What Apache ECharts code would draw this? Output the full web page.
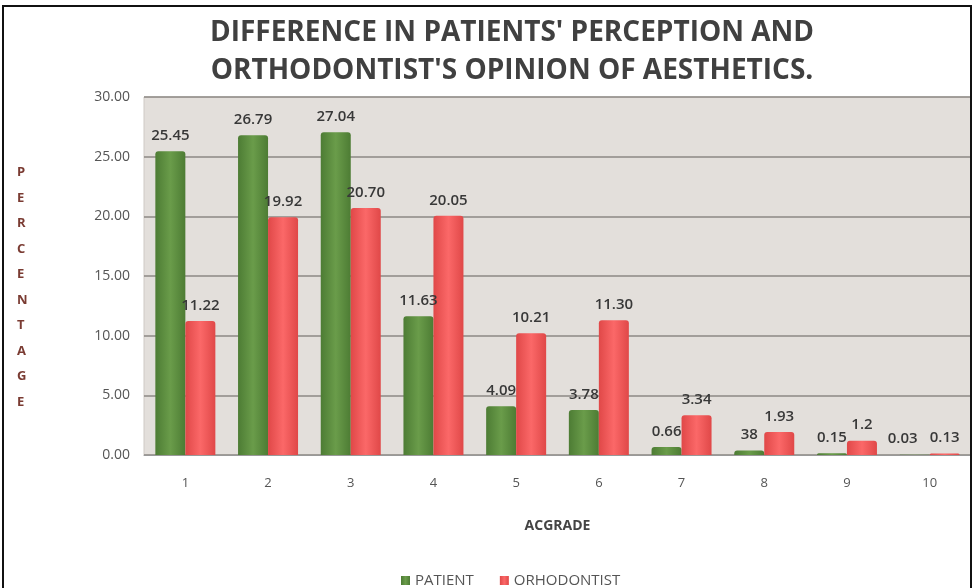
<!DOCTYPE html>
<html><head><meta charset="utf-8">
<script src="https://cdn.jsdelivr.net/npm/echarts@6/dist/echarts.min.js"></script>
<style>html,body{margin:0;padding:0;background:#fff}#c{width:974px;height:588px}</style>
</head><body><div id="c"></div>
<script>
const categories = ['1','2','3','4','5','6','7','8','9','10'];
const patient = [25.45, 26.79, 27.04, 11.63, 4.09, 3.78, 0.66, 0.38, 0.15, 0.03];
const orthodontist = [11.22, 19.92, 20.70, 20.05, 10.21, 11.30, 3.34, 1.93, 1.2, 0.13];
const patientLabels = ['25.45','26.79','27.04','11.63','4.09','3.78','0.66','38','0.15','0.03'];
const orthoLabels = ['11.22','19.92','20.70','20.05','10.21','11.30','3.34','1.93','1.2','0.13'];
const seriesNames = ['PATIENT', 'ORHODONTIST'];
const yTicks = [0, 5, 10, 15, 20, 25, 30];
const yAxisTitle = 'PERCENTAGE';

const chart = echarts.init(document.getElementById('c'));
const font = 'Open Sans, sans-serif';
function hGrad(edge, mid){
  return new echarts.graphic.LinearGradient(0,0,1,0,[
    {offset:0,color:edge},{offset:0.5,color:mid},{offset:1,color:edge}]);
}
// last patient label nudged left so it does not collide with its neighbour
const patientData = patient.map((v, i) => i === patient.length - 1
  ? {value: v, label: {offset: [-12, 0]}} : v);
chart.setOption({
  backgroundColor: '#ffffff',
  animation: false,
  title: {
    text: "DIFFERENCE IN PATIENTS' PERCEPTION AND\nORTHODONTIST'S OPINION OF AESTHETICS.",
    left: 507, top: 9, textAlign: 'center',
    textStyle: {fontFamily: font, fontWeight: 'bold', fontSize: 28, lineHeight: 38, color: '#404040'}
  },
  legend: {
    data: seriesNames, top: 568, left: 396, itemWidth: 9, itemHeight: 9, itemGap: 26,
    icon: 'rect',
    textStyle: {fontFamily: font, fontSize: 15, color: '#555'}
  },
  graphic: [{
    type: 'rect', shape: {x: 3, y: 6, width: 968, height: 590},
    style: {fill: 'none', stroke: '#111', lineWidth: 2}, silent: true, z: 100
  }, {
    type: 'text', left: 17, top: 160,
    style: {text: yAxisTitle.split('').join('\n'), fontFamily: font, fontWeight: 'bold',
      fontSize: 13, lineHeight: 25.5, fill: '#7a3b32', align: 'center'}
  }],
  grid: {left: 144, right: 3, top: 97, bottom: 133, show: true,
    backgroundColor: '#e3dfdb', borderColor: '#cfcac5', borderWidth: 1},
  xAxis: {
    type: 'category', data: categories,
    name: 'ACGRADE', nameLocation: 'middle', nameGap: 64,
    nameTextStyle: {fontFamily: font, fontWeight: 'bold', fontSize: 14, color: '#444'},
    axisLine: {lineStyle: {color: '#999'}}, axisTick: {show: false},
    axisLabel: {fontFamily: font, fontSize: 13, color: '#555', margin: 22}
  },
  yAxis: {
    type: 'value', min: yTicks[0], max: yTicks[yTicks.length-1], interval: 5,
    axisLine: {show: false}, axisTick: {show: false},
    axisLabel: {fontFamily: font, fontSize: 14, color: '#555', margin: 14, formatter: v => v.toFixed(2)},
    splitLine: {lineStyle: {color: '#8c8985', width: 1.5}}
  },
  series: [
    {name: seriesNames[0], type: 'bar', data: patientData, barWidth: 30, barGap: '0%',
     itemStyle: {color: hGrad('#4d7c34', '#6a9c4a'), borderRadius: [3,3,0,0]},
     label: {show: true, position: 'top', distance: 8, fontFamily: font, fontSize: 15, fontWeight: 600, color: '#383838',
       formatter: p => patientLabels[p.dataIndex]}},
    {name: seriesNames[1], type: 'bar', data: orthodontist, barWidth: 30,
     itemStyle: {color: hGrad('#e04848', '#fb6868'), borderRadius: [3,3,0,0]},
     label: {show: true, position: 'top', distance: 8, fontFamily: font, fontSize: 15, fontWeight: 600, color: '#383838',
       formatter: p => orthoLabels[p.dataIndex]}}
  ],
  color: ['#5e8f3f', '#f05656']
});
</script></body></html>
